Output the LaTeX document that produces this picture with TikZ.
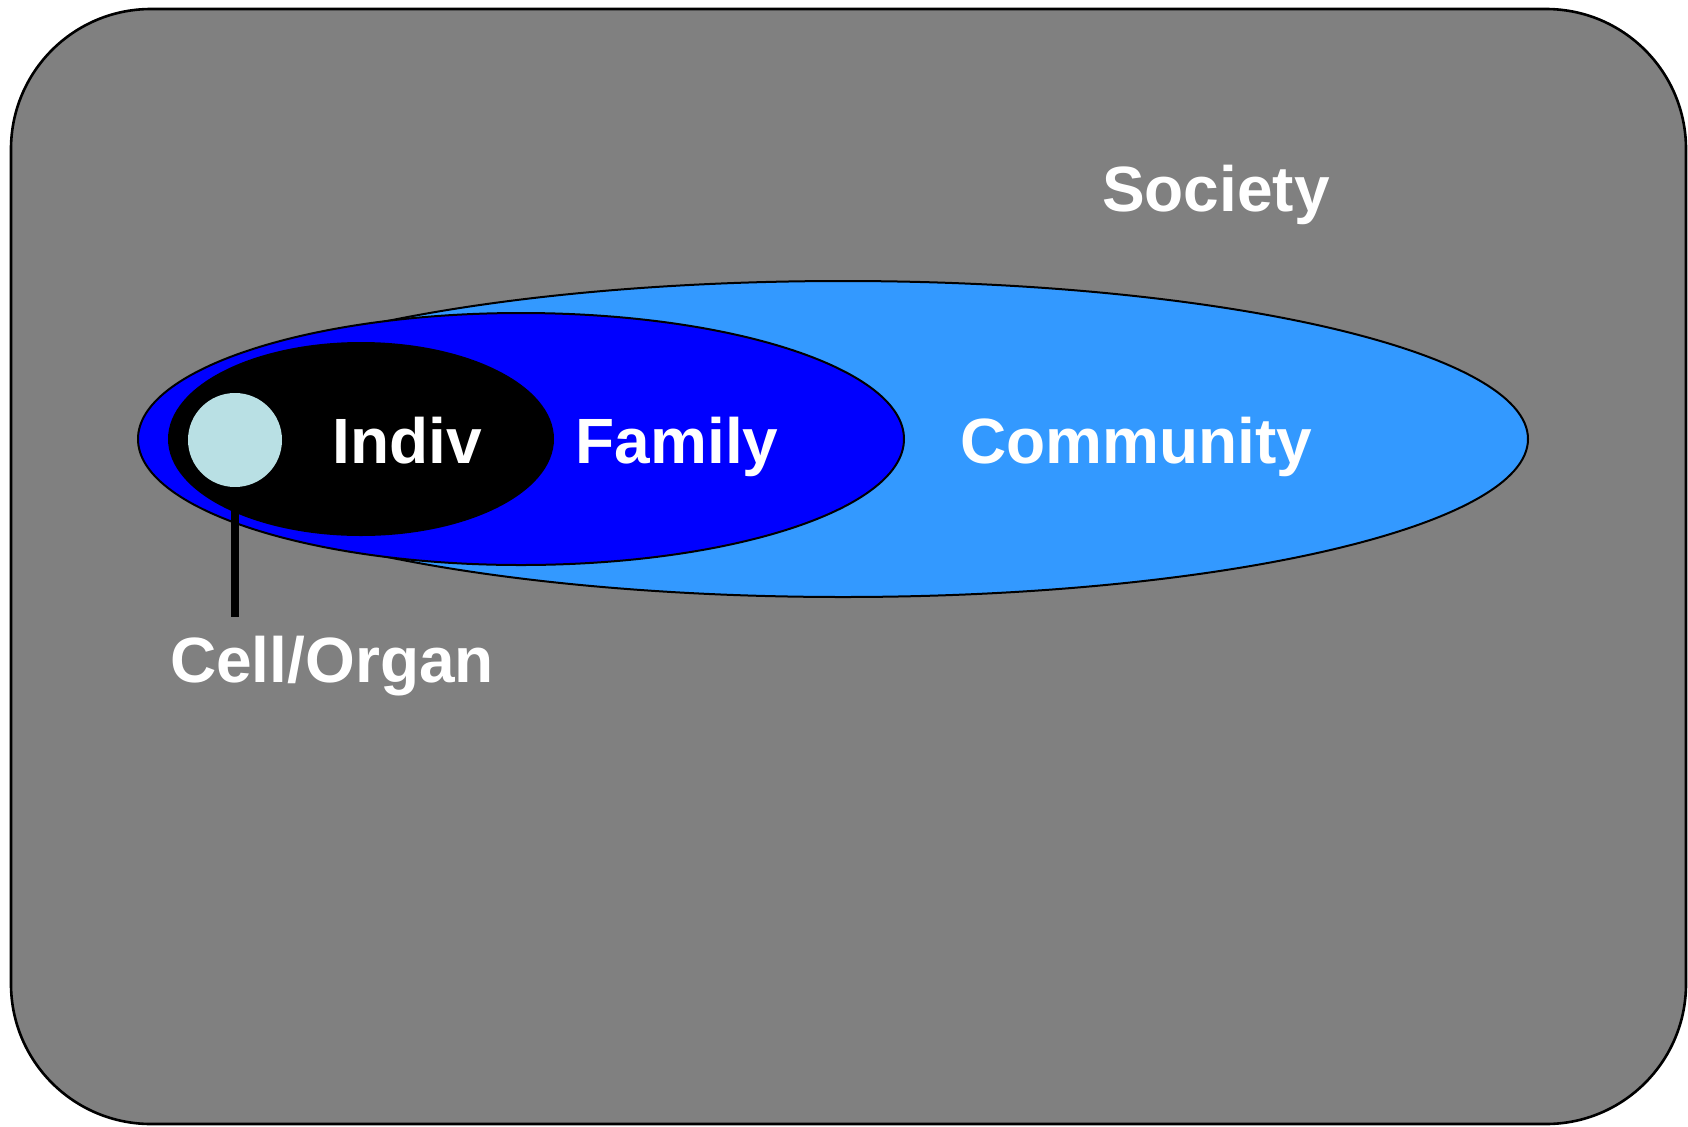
\documentclass[tikz,border=0pt]{standalone}
\usepackage{fontspec}
\setmainfont{Liberation Sans}
\usepackage{xcolor}
\definecolor{soc}{RGB}{128,128,128}
\definecolor{comm}{RGB}{51,153,255}
\definecolor{fam}{RGB}{0,0,255}
\definecolor{cellc}{RGB}{185,224,228}

\begin{document}
\begin{tikzpicture}[x=0.5pt,y=-0.5pt,
        lbl/.style={anchor=base,text=white,font=\fontsize{32}{38}\selectfont\bfseries},
        ring/.style={draw=black,line width=1pt}]
            \useasboundingbox (0,0) rectangle (1688,1126);
            \draw[ring,fill=soc,line width=1.3pt,rounded corners=70pt] (11,9) rectangle (1686,1124);
            \draw[ring,fill=comm] (843,439) ellipse [x radius=342.5pt,y radius=79pt];
            \draw[ring,fill=fam] (521,439) ellipse [x radius=191.5pt,y radius=63pt];
            \draw[ring,fill=black] (361,439) ellipse [x radius=96pt,y radius=48pt];
            \node[circle,fill=cellc,minimum size=47pt,inner sep=0pt] (cell) at (235,440) {};
            \coordinate (tip) at (235,617);
            \draw[line width=3.8pt] (cell.south) -- (tip);
            \node[lbl] (society) at (1216,211) {Society};
            \node[lbl] (indiv) at (407,463) {Indiv};
            \node[lbl] (family) at (677,463) {Family};
            \node[lbl] (community) at (1136,463) {Community};
            \node[lbl] (organ) at (332,682) {Cell/Organ};
        \end{tikzpicture}
\end{document}
